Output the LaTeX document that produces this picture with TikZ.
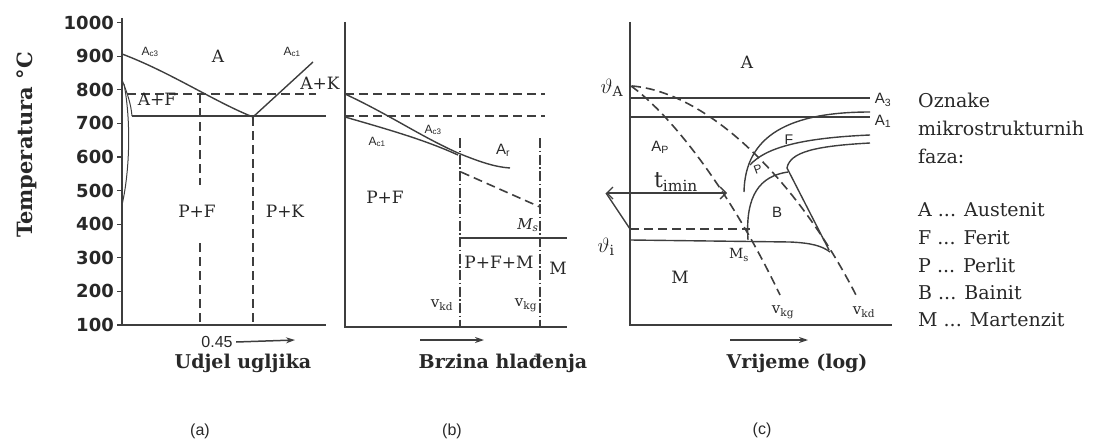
\documentclass[tikz,border=0pt]{standalone}
\usepackage{fontspec}
\setmainfont{DejaVu Serif}
\setsansfont{Liberation Sans}
\newfontfamily\tickfont{DejaVu Sans}
\usepackage{xcolor}
\definecolor{dgray}{RGB}{62,62,62}
\definecolor{tgray}{RGB}{40,40,40}
\usetikzlibrary{arrows.meta}
\newcommand{\pxsize}[1]{\fontsize{#1}{#1}\selectfont}

\begin{document}
\begin{tikzpicture}[x=1pt, y=-1pt,
  axis/.style={draw=dgray, line width=2pt},
  curve/.style={draw=dgray, line width=1.4pt},
  dashline/.style={draw=dgray, line width=1.6pt, dash pattern=on 9pt off 5pt},
  dashdot/.style={draw=dgray, line width=1.6pt, dash pattern=on 10pt off 2.5pt on 1.5pt off 2.5pt},
  tick/.style={font=\tickfont\bfseries\pxsize{18}, text=tgray, anchor=east, inner sep=0pt},
  axtitle/.style={font=\bfseries\pxsize{19}, text=tgray},
  phase/.style={font=\pxsize{17}, text=tgray},
  lbl/.style={font=\sffamily\pxsize{12}, text=tgray},
  legend/.style={font=\pxsize{19}, text=tgray, anchor=west, inner sep=0pt},
  panel/.style={font=\sffamily\pxsize{16}, text=tgray},
  speed/.style={draw=dgray, line width=1.5pt, -{Stealth[length=9pt,width=6pt]}}
]
  \useasboundingbox (0,0) rectangle (1094,444);

  % --- Panel (a): Fe-C diagram ---
  % Chart axes
  \draw[axis] (122,18) -- (122,325) -- (326,325);
  \foreach \t in {100,200,...,1000} {
    \draw[axis, line width=1.3pt] (117,{325-(\t-100)*0.336}) -- (122,{325-(\t-100)*0.336});
    \node[tick] (ta\t) at (114,{325-(\t-100)*0.336}) {\t};
  }
  \node[axtitle, font=\bfseries\pxsize{21}, rotate=90] (ytitle) at (27,145) {Temperatura °C};
  % Phase lines
  \draw[curve] (122,54) .. controls (170,72) and (215,102) .. (253,117) -- (313,62);
  \draw[dashline] (127,94) -- (316,94);
  \draw[curve, line width=1.8pt] (132,116) -- (326,116);
  \draw[dashline] (200,94) -- (200,185);
  \draw[dashline] (200,243) -- (200,325);
  \draw[dashline] (253,117) -- (253,325);
  \draw[curve, line width=1pt] (122,80) .. controls (127,92) and (131,104) .. (132,116);
  \draw[curve, line width=1pt] (124,84) .. controls (131,120) and (130,170) .. (122,205);
  % Labels
  \node[lbl] (ac3a) at (150,52) {A\textsubscript{c3}};
  \node[phase] (aa) at (218,56) {A};
  \node[lbl] (ac1a) at (292,52) {A\textsubscript{c1}};
  \node[phase] (akp) at (320,83) {A+K};
  \node[phase] (afa) at (157,99) {A+F};
  \node[phase] (pfa) at (197,211) {P+F};
  \node[phase] (pka) at (285,211) {P+K};
  \node[font=\sffamily\pxsize{16}, text=tgray] (c045) at (217,342) {0.45};
  \draw[speed] (c045.east) -- (295,340);
  \node[axtitle] (xa) at (243,363) {Udjel ugljika};
  \node[panel] (pa) at (200,431) {(a)};

  % --- Panel (b): cooling speed ---
  % Chart axes
  \draw[axis] (345,22) -- (345,327) -- (567,327);
  \draw[dashline] (345,94) -- (545,94);
  \draw[dashline] (345,116) -- (545,116);
  % Transformation lines
  \draw[curve] (345,94) .. controls (390,115) and (420,136) .. (458,153) .. controls (480,162) and (495,167) .. (510,168);
  \draw[curve] (345,117) .. controls (390,130) and (425,140) .. (458,155);
  \draw[dashline] (461,172) -- (540,207);
  \draw[dashdot] (460,138) -- (460,327);
  \draw[dashdot] (540,138) -- (540,327);
  \draw[curve, line width=1.8pt] (460,238) -- (567,238);
  % Labels
  \node[lbl] (ac3b) at (433,130) {A\textsubscript{c3}};
  \node[lbl] (ac1b) at (377,142) {A\textsubscript{c1}};
  \node[lbl, font=\sffamily\pxsize{15}] (arb) at (503,150) {A\textsubscript{r}};
  \node[phase] (pfb) at (385,197) {P+F};
  \node[phase, font=\itshape\pxsize{15}] (msb) at (528,225) {M\textsubscript{s}};
  \node[phase] (pfmb) at (499,262) {P+F+M};
  \node[phase] (mb) at (558,268) {M};
  \node[phase, font=\pxsize{15}] (vkdb) at (442,305) {v\textsubscript{kd}};
  \node[phase, font=\pxsize{15}] (vkgb) at (526,305) {v\textsubscript{kg}};
  \coordinate (sb) at (420,340);
  \draw[speed] (sb) -- (484,340);
  \node[axtitle] (xb) at (503,363) {Brzina hlađenja};
  \node[panel] (pb) at (452,431) {(b)};

  % --- Panel (c): TTT diagram ---
  % Chart axes
  \draw[axis] (630,22) -- (630,325) -- (892,325);
  \draw[curve] (630,98) -- (870,98);
  \draw[curve] (630,117) -- (870,117);
  % Cooling curves
  \draw[dashline] (631,86) .. controls (665,110) and (725,180) .. (780,295);
  \draw[dashline] (632,86) .. controls (705,92) and (795,175) .. (857,297);
  % C-curves
  \draw[curve] (870,112) .. controls (790,112) and (745,135) .. (744,192);
  \draw[curve] (870,135) .. controls (800,138) and (765,148) .. (750,165);
  \draw[curve] (870,143) .. controls (815,146) and (790,152) .. (787,168) -- (829,250);
  \draw[curve] (788,172) .. controls (760,176) and (745,195) .. (748,240);
  \draw[curve] (630,240) -- (790,242) .. controls (812,243) and (822,246) .. (830,252);
  \draw[dashline] (630,229) -- (750,229);
  % Incubation time
  \coordinate (tl) at (606,193);
  \coordinate (tr) at (727,193);
  \draw[curve, {Straight Barb[length=6pt]}-{Straight Barb[length=6pt]}] (tl) -- (tr);
  \draw[curve] (tl) -- (630,229);
  % Labels
  \node[phase, font=\pxsize{20}] (tha) at (612,88) {$\vartheta$\textsubscript{A}};
  \node[phase, font=\pxsize{20}] (thi) at (606,247) {$\vartheta$\textsubscript{i}};
  \node[phase] (ac) at (747,62) {A};
  \node[lbl, font=\sffamily\pxsize{15}] (a3c) at (883,100) {A\textsubscript{3}};
  \node[lbl, font=\sffamily\pxsize{15}] (a1c) at (883,121) {A\textsubscript{1}};
  \node[lbl, font=\sffamily\pxsize{15}] (apc) at (660,147) {A\textsubscript{P}};
  \node[phase, font=\pxsize{22}] (timin) at (676,182) {t\textsubscript{imin}};
  \node[lbl, font=\sffamily\pxsize{14}] (fc) at (789,140) {F};
  \node[lbl, font=\sffamily\pxsize{12}, rotate=20] (pc) at (758,169) {P};
  \node[lbl, font=\sffamily\pxsize{15}] (bc) at (777,212) {B};
  \node[phase] (mc) at (680,277) {M};
  \node[phase, font=\pxsize{14}] (msc) at (739,255) {M\textsubscript{s}};
  \node[phase, font=\pxsize{15}] (vkgc) at (783,312) {v\textsubscript{kg}};
  \node[phase, font=\pxsize{15}] (vkdc) at (864,312) {v\textsubscript{kd}};
  \coordinate (sc) at (730,340);
  \draw[speed] (sc) -- (808,340);
  \node[axtitle] (xc) at (797,363) {Vrijeme (log)};
  \node[panel] (pcl) at (762,430) {(c)};

  % --- Legend ---
  \node[legend] (lg1) at (918,100) {Oznake};
  \node[legend] (lg2) at (918,128) {mikrostrukturnih};
  \node[legend] (lg3) at (918,156) {faza:};
  \node[legend] (lgA) at (918,210) {A ... Austenit};
  \node[legend] (lgF) at (918,238) {F ... Ferit};
  \node[legend] (lgP) at (918,265) {P ... Perlit};
  \node[legend] (lgB) at (918,293) {B ... Bainit};
  \node[legend] (lgM) at (918,320) {M ... Martenzit};
\end{tikzpicture}
\end{document}
